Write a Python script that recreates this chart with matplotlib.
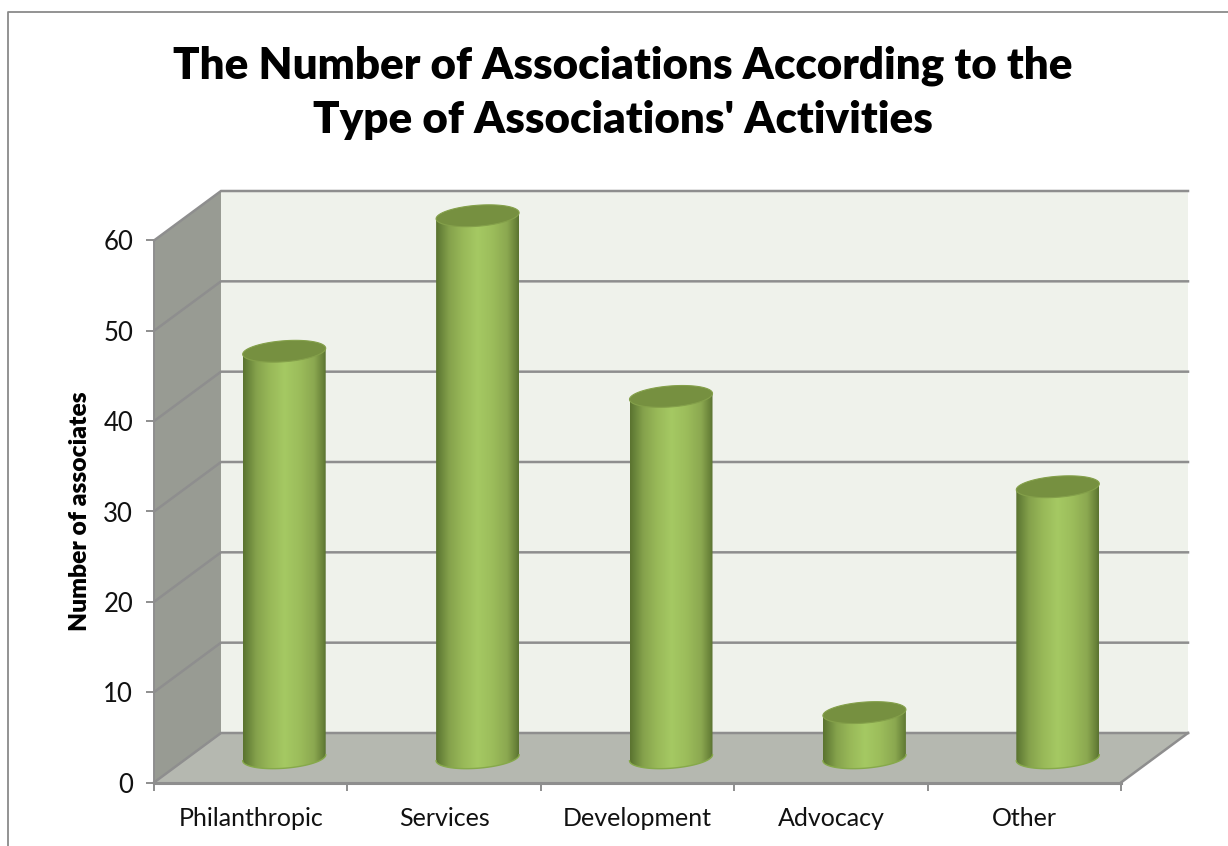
import numpy as np
import matplotlib
matplotlib.use("Agg")
import matplotlib.pyplot as plt
from matplotlib.colors import LinearSegmentedColormap
from matplotlib.lines import Line2D
from matplotlib.patches import Polygon

categories = ["Philanthropic", "Services", "Development", "Advocacy", "Other"]
values = [45, 60, 40, 5, 30]
y_ticks = [0, 10, 20, 30, 40, 50, 60]
title = "The Number of Associations According to the\nType of Associations' Activities"
y_label = "Number of associates"

W, H = 1228, 846
FONT = "Lato"
GRID = "#8e8e8e"

fig = plt.figure(figsize=(W / 100, H / 100), dpi=100, facecolor="white")
ax = fig.add_axes([154 / W, (H - 782.5) / H, 967 / W, 542 / H])
ax.set_xlim(0, len(categories))
ax.set_ylim(0, 60)
ax.patch.set_visible(False)

# Oblique depth of the chart box, in data units
dx = 67 / (967 / 5)
dy = 49.5 / (542 / 60)
x_max, y_max = len(categories), 60

# Walls and floor
ax.add_patch(Polygon([(dx, dy), (x_max + dx, dy), (x_max + dx, y_max + dy), (dx, y_max + dy)],
                     fc="#eff2eb", ec="none", zorder=1, clip_on=False))
ax.add_patch(Polygon([(0, 0), (dx, dy), (dx, y_max + dy), (0, y_max)],
                     fc="#989b93", ec="none", zorder=1.1, clip_on=False))
ax.add_patch(Polygon([(0, 0), (x_max, 0), (x_max + dx, dy), (dx, dy)],
                     fc="#b5b8b0", ec="none", zorder=1.1, clip_on=False))

# Gridlines run along the side wall and then across the back wall
for t in y_ticks:
    ax.plot([0, dx, x_max + dx], [t, t + dy, t + dy], color=GRID, lw=1.8,
            zorder=2, clip_on=False, solid_joinstyle="miter")
ax.plot([x_max, x_max + dx], [0, dy], color=GRID, lw=1.8, zorder=2, clip_on=False)
ax.plot([0, 0], [0, y_max], color=GRID, lw=1.4, zorder=2, clip_on=False)
ax.plot([0, x_max], [0, 0], color=GRID, lw=2.2, zorder=2, clip_on=False)

# Cylinders stand halfway into the depth of the box
body_cmap = LinearSegmentedColormap.from_list("body", [
    (0.00, "#5a7330"), (0.04, "#647f37"), (0.16, "#85a24c"), (0.32, "#98b858"),
    (0.50, "#a5c963"), (0.68, "#9cbd5b"), (0.86, "#8ba850"), (0.96, "#6a843a"),
    (1.00, "#5a7330"),
])
gradient = np.linspace(0, 1, 256).reshape(1, -1)
rx = 41.5 / (967 / 5)
ry = 10.5 / (542 / 60)
tilt = 3.0 / (542 / 60)
t_arc = np.linspace(0, 2 * np.pi, 181)

for i, v in enumerate(values):
    cx = i + 0.5 + dx / 2
    y0 = dy / 2
    y1 = y0 + v
    ex = cx + rx * np.cos(t_arc)
    ey = ry * np.sin(t_arc) + tilt * np.cos(t_arc)
    lower = t_arc[(t_arc >= np.pi) & (t_arc <= 2 * np.pi)]
    lx = cx + rx * np.cos(lower)
    ly = y0 + ry * np.sin(lower) + tilt * np.cos(lower)
    outline = np.column_stack([
        np.r_[lx, cx + rx, cx - rx],
        np.r_[ly, y1 + tilt, y1 - tilt],
    ])
    clip = Polygon(outline, transform=ax.transData)
    im = ax.imshow(gradient, cmap=body_cmap, vmin=0, vmax=1, aspect="auto",
                   interpolation="bilinear",
                   extent=[cx - rx, cx + rx, y0 - ry - 1, y1 + ry + 1], zorder=3)
    im.set_clip_box(fig.bbox)
    im.set_clip_path(clip)
    ax.plot(lx, ly, color="#86a94a", lw=1.0, zorder=3.1, clip_on=False)
    ax.fill(ex, y1 + ey, fc="#769040", ec="#84a04a", lw=0.8, zorder=3.2, clip_on=False)

ax.set_xlim(0, len(categories))
ax.set_ylim(0, 60)

# Axes, ticks and labels
for s in ax.spines.values():
    s.set_visible(False)
ax.set_yticks(y_ticks)
ax.set_xticks(np.arange(len(categories) + 1))
ax.set_xticklabels([])
ax.set_xticks(np.arange(len(categories)) + 0.5, minor=True)
ax.set_xticklabels(categories, minor=True, fontfamily=FONT, fontsize=18, color="#111111")
ax.tick_params(axis="x", which="major", length=6, width=1.4, color=GRID)
ax.tick_params(axis="x", which="minor", length=0, pad=17.5)
ax.tick_params(axis="y", length=6, width=1.4, color=GRID, pad=9,
               labelsize=18.5, labelcolor="#111111")
for lab in ax.get_yticklabels():
    lab.set_fontfamily(FONT)

fig.text(80 / W, 1 - 511 / H, y_label, rotation=90, ha="center", va="center",
         fontfamily=FONT, fontweight="heavy", fontsize=17.7, color="black")
fig.text(623 / W, 1 - 93 / H, title, ha="center", va="center", fontfamily=FONT,
         fontweight="heavy", fontsize=31.6, linespacing=1.42, color="black")

# Chart frame, cut off by the image on the right and at the bottom
fig.add_artist(Line2D([7.5 / W, 7.5 / W, 1], [0, 1 - 12.5 / H, 1 - 12.5 / H],
                      color="#8a8a8a", lw=1.3, transform=fig.transFigure))

fig.savefig("out.png", dpi=100, facecolor="white")
